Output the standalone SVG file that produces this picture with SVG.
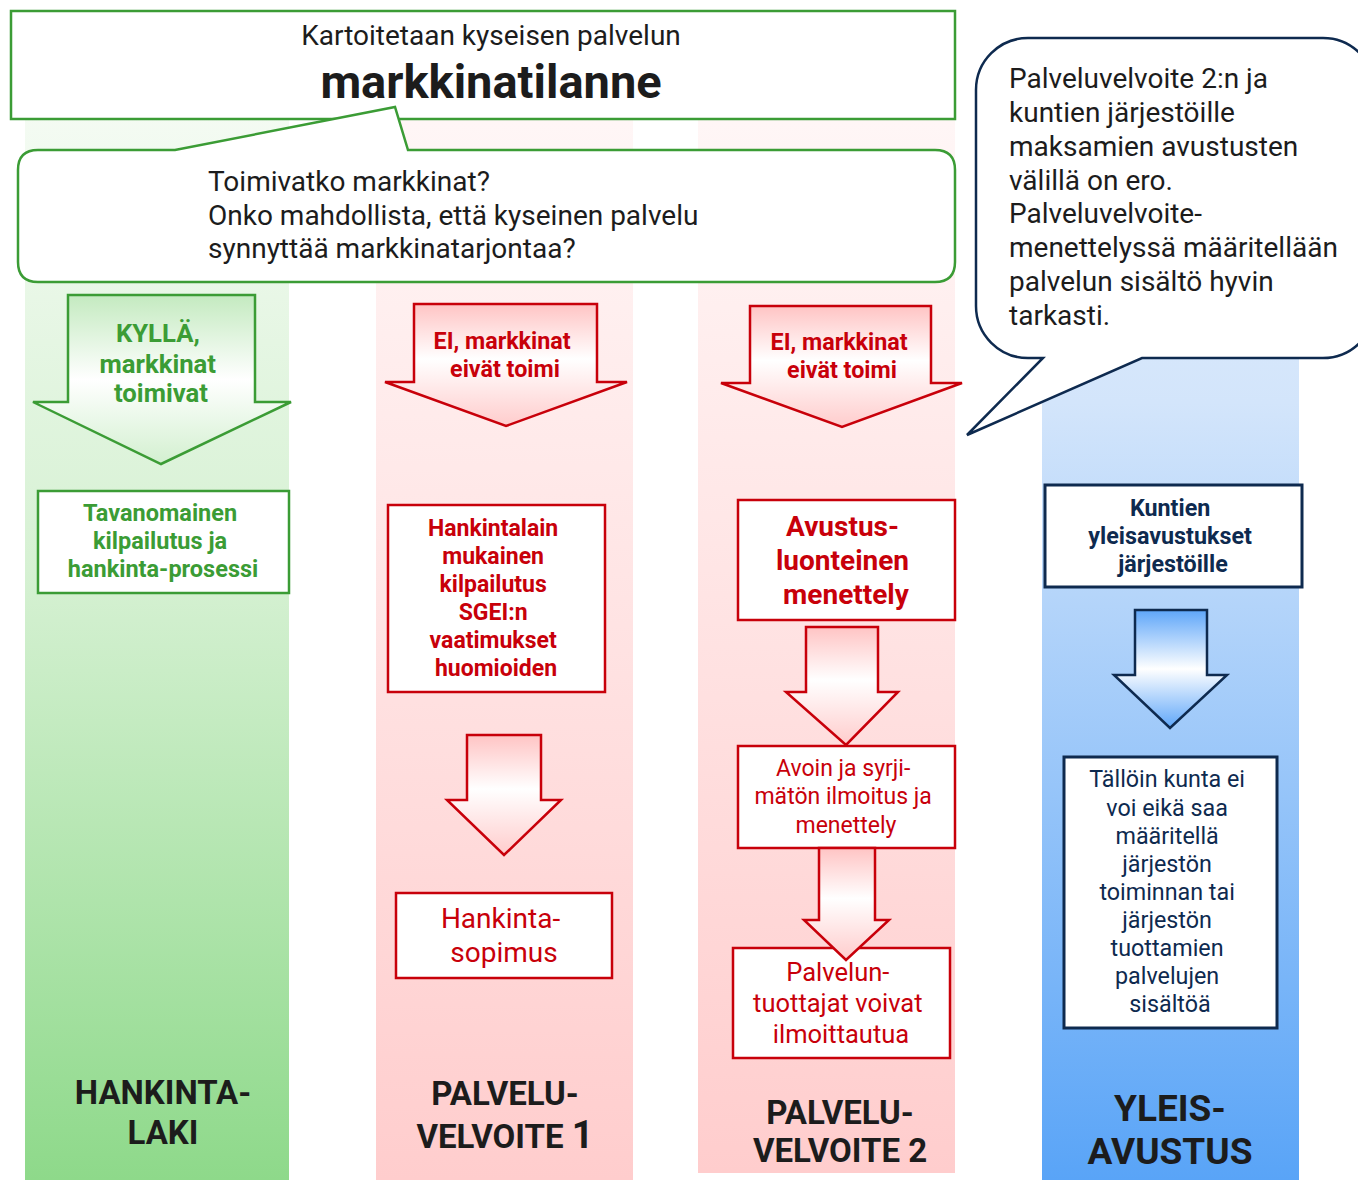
<svg xmlns="http://www.w3.org/2000/svg" width="1358" height="1180" viewBox="0 0 1358 1180">
<defs>
<linearGradient id="colGreen" x1="0" y1="0" x2="0" y2="1">
<stop offset="0" stop-color="#f7fcf6"/><stop offset="0.45" stop-color="#d6f1d3"/><stop offset="1" stop-color="#8ed98a"/>
</linearGradient>
<linearGradient id="colRed" x1="0" y1="0" x2="0" y2="1">
<stop offset="0" stop-color="#fff8f8"/><stop offset="0.5" stop-color="#ffe3e3"/><stop offset="1" stop-color="#ffcdcd"/>
</linearGradient>
<linearGradient id="colBlue" x1="0" y1="0" x2="0" y2="1">
<stop offset="0" stop-color="#e4effc"/><stop offset="0.3" stop-color="#d3e5fb"/><stop offset="1" stop-color="#59a4f7"/>
</linearGradient>
<linearGradient id="arGreen" x1="0" y1="0" x2="0" y2="1">
<stop offset="0" stop-color="#c4eac0"/><stop offset="0.5" stop-color="#ffffff"/><stop offset="1" stop-color="#d3f0d0"/>
</linearGradient>
<linearGradient id="arRed" x1="0" y1="0" x2="0" y2="1">
<stop offset="0" stop-color="#ffc4c4"/><stop offset="0.45" stop-color="#ffffff"/><stop offset="1" stop-color="#ffcccc"/>
</linearGradient>
<linearGradient id="arBlue" x1="0" y1="0" x2="0" y2="1">
<stop offset="0" stop-color="#5ea6f9"/><stop offset="0.5" stop-color="#ffffff"/><stop offset="1" stop-color="#5ea6f9"/>
</linearGradient>
</defs>
<style>
text{font-family:Roboto,"Liberation Sans",sans-serif;}
.c{text-anchor:middle;}
.b{font-weight:bold;}
.gS{fill:#fff;stroke:#3b9c35;stroke-width:2.5;}
.rS{fill:#fff;stroke:#c8000a;stroke-width:2.5;}
.nS{fill:#fff;stroke:#0e2a4f;stroke-width:3;}
.gT{fill:#3b9c35;}
.rT{fill:#c8000a;}
.nT{fill:#0e2a4f;}
.kT{fill:#1c1c1c;}
.arG{fill:url(#arGreen);stroke:#3b9c35;stroke-width:2.5;}
.arR{fill:url(#arRed);stroke:#c8000a;stroke-width:2.5;}
.arB{fill:url(#arBlue);stroke:#0e2a4f;stroke-width:2.5;}
</style>

<g id="columns">
<rect x="25" y="70" width="264" height="1110" fill="url(#colGreen)"/>
<rect x="376" y="70" width="257" height="1110" fill="url(#colRed)"/>
<rect x="698" y="70" width="257" height="1103" fill="url(#colRed)"/>
<rect x="1042" y="70" width="257" height="1110" fill="url(#colBlue)"/>
</g>

<g id="top-box">
<rect x="11" y="11" width="944" height="108" class="gS"/>
<text x="491" y="45" class="c kT" font-size="28">Kartoitetaan kyseisen palvelun</text>
<text x="491" y="98" class="c b kT" font-size="47">markkinatilanne</text>
</g>

<g id="question-bubble">
<path d="M38 150 L175 150 L395 107 L408 150 L935 150 Q955 150 955 170 L955 262 Q955 282 935 282 L38 282 Q18 282 18 262 L18 170 Q18 150 38 150 Z" class="gS"/>
<text x="208" y="191" class="kT" font-size="28">Toimivatko markkinat?</text>
<text x="208" y="225" class="kT" font-size="28">Onko mahdollista, että kyseinen palvelu</text>
<text x="208" y="258" class="kT" font-size="28">synnyttää markkinatarjontaa?</text>
</g>

<g id="note-bubble">
<path d="M1028 38 L1323 38 A52 52 0 0 1 1375 90 L1375 306 A52 52 0 0 1 1323 358 L1142 358 L967 435 L1043 358 L1028 358 A52 52 0 0 1 976 306 L976 90 A52 52 0 0 1 1028 38 Z" fill="#fff" stroke="#0e2a4f" stroke-width="2.5"/>
<text class="kT" font-size="28">
<tspan x="1009" y="88">Palveluvelvoite 2:n ja</tspan>
<tspan x="1009" y="122">kuntien järjestöille</tspan>
<tspan x="1009" y="156">maksamien avustusten</tspan>
<tspan x="1009" y="190">välillä on ero.</tspan>
<tspan x="1009" y="223">Palveluvelvoite-</tspan>
<tspan x="1009" y="257">menettelyssä määritellään</tspan>
<tspan x="1009" y="291">palvelun sisältö hyvin</tspan>
<tspan x="1009" y="325">tarkasti.</tspan>
</text>
</g>

<g id="yes-arrow">
<path d="M68 295 L255 295 L255 402 L291 402 L161 464 L33 402 L68 402 Z" class="arG"/>
<text class="c b gT" font-size="25.7">
<tspan x="161" y="342">KYLLÄ,</tspan>
<tspan x="161" y="373">markkinat</tspan>
<tspan x="161" y="402">toimivat</tspan>
</text>
</g>

<g id="no-arrow-1">
<path d="M414 304 L597 304 L597 382 L627 382 L506 426 L385 382 L414 382 Z" class="arR"/>
<text class="c b rT" font-size="23.3">
<tspan x="505" y="349">EI, markkinat</tspan>
<tspan x="505" y="377">eivät toimi</tspan>
</text>
</g>

<g id="no-arrow-2">
<path d="M750 306 L931 306 L931 383 L962 383 L842 427 L721 383 L750 383 Z" class="arR"/>
<text class="c b rT" font-size="23.3">
<tspan x="842" y="350">EI, markkinat</tspan>
<tspan x="842" y="378">eivät toimi</tspan>
</text>
</g>

<g id="tavanomainen">
<rect x="38" y="491" width="251" height="102" class="gS"/>
<text class="c b gT" font-size="23.5">
<tspan x="163" y="521">Tavanomainen</tspan>
<tspan x="163" y="549">kilpailutus ja</tspan>
<tspan x="163" y="577">hankinta-prosessi</tspan>
</text>
</g>

<g id="hankintalain">
<rect x="388" y="505" width="217" height="187" class="rS"/>
<text class="c b rT" font-size="23">
<tspan x="496" y="536">Hankintalain</tspan>
<tspan x="496" y="564">mukainen</tspan>
<tspan x="496" y="592">kilpailutus</tspan>
<tspan x="496" y="620">SGEI:n</tspan>
<tspan x="496" y="648">vaatimukset</tspan>
<tspan x="496" y="676">huomioiden</tspan>
</text>
</g>

<g id="hankintasopimus">
<rect x="396" y="893" width="216" height="85" class="rS"/>
<text class="c rT" font-size="28">
<tspan x="504" y="928">Hankinta-</tspan>
<tspan x="504" y="962">sopimus</tspan>
</text>
</g>

<g id="avustusluonteinen">
<rect x="738" y="500" width="217" height="120" class="rS"/>
<text class="c b rT" font-size="28">
<tspan x="846" y="536">Avustus-</tspan>
<tspan x="846" y="570">luonteinen</tspan>
<tspan x="846" y="604">menettely</tspan>
</text>
</g>

<g id="avoin">
<rect x="738" y="746" width="217" height="102" class="rS"/>
<text class="c rT" font-size="23">
<tspan x="846" y="776">Avoin ja syrji-</tspan>
<tspan x="846" y="804">mätön ilmoitus ja</tspan>
<tspan x="846" y="833">menettely</tspan>
</text>
</g>

<g id="palveluntuottajat">
<rect x="733" y="948" width="217" height="110" class="rS"/>
<text class="c rT" font-size="25.5">
<tspan x="841" y="981">Palvelun-</tspan>
<tspan x="841" y="1012">tuottajat voivat</tspan>
<tspan x="841" y="1043">ilmoittautua</tspan>
</text>
</g>

<g id="kuntien">
<rect x="1045" y="485" width="257" height="102" class="nS"/>
<text class="c b nT" font-size="23.3">
<tspan x="1173" y="516">Kuntien</tspan>
<tspan x="1173" y="544">yleisavustukset</tspan>
<tspan x="1173" y="572">järjestöille</tspan>
</text>
</g>

<g id="tallain">
<rect x="1064" y="757" width="213" height="271" class="nS" stroke-width="2.5"/>
<text class="c nT" font-size="23.3">
<tspan x="1170" y="787">Tällöin kunta ei</tspan>
<tspan x="1170" y="816">voi eikä saa</tspan>
<tspan x="1170" y="844">määritellä</tspan>
<tspan x="1170" y="872">järjestön</tspan>
<tspan x="1170" y="900">toiminnan tai</tspan>
<tspan x="1170" y="928">järjestön</tspan>
<tspan x="1170" y="956">tuottamien</tspan>
<tspan x="1170" y="984">palvelujen</tspan>
<tspan x="1170" y="1012">sisältöä</tspan>
</text>
</g>

<g id="connectors">
<path d="M467 735 L541 735 L541 800 L561 800 L504 855 L447 800 L467 800 Z" class="arR"/>
<path d="M806 627 L878 627 L878 692 L898 692 L846 745 L786 692 L806 692 Z" class="arR"/>
<path d="M819 848 L875 848 L875 920 L889 920 L846 960 L804 920 L819 920 Z" class="arR"/>
<path d="M1135 610 L1207 610 L1207 675 L1227 675 L1170 728 L1114 675 L1135 675 Z" class="arB"/>
</g>

<g id="label-hankintalaki">
<text class="c b kT" font-size="33"><tspan x="163" y="1104">HANKINTA-</tspan><tspan x="163" y="1144">LAKI</tspan></text>
</g>
<g id="label-palveluvelvoite1">
<text class="c b kT" font-size="33"><tspan x="505" y="1105">PALVELU-</tspan><tspan x="505" y="1148">VELVOITE <tspan font-size="38">1</tspan></tspan></text>
</g>
<g id="label-palveluvelvoite2">
<text class="c b kT" font-size="33"><tspan x="840" y="1124">PALVELU-</tspan><tspan x="840" y="1162">VELVOITE 2</tspan></text>
</g>
<g id="label-yleisavustus">
<text class="c b kT" font-size="37"><tspan x="1170" y="1121">YLEIS-</tspan><tspan x="1170" y="1164">AVUSTUS</tspan></text>
</g>
</svg>
